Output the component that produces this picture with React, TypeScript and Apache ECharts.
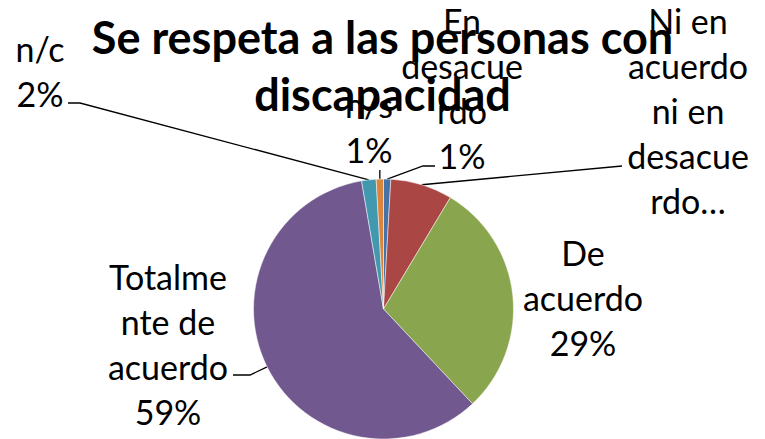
import React, { useEffect, useRef } from 'react';
import * as echarts from 'echarts';

const categories = ['En desacuerdo', 'Ni en acuerdo ni en desacuerdo', 'De acuerdo', 'Totalmente de acuerdo', 'n/c', 'n/s'];
const values = [0.9, 7.7, 29.4, 59.3, 1.8, 0.9];
const colors = ['#4572A7', '#AA4643', '#89A54E', '#71588F', '#4198AF', '#DB843D'];
const wrappedNames = ['En\ndesacue\nrdo', 'Ni en\nacuerdo\nni en\ndesacue\nrdo…', 'De\nacuerdo', 'Totalme\nnte de\nacuerdo', 'n/c', 'n/s'];
const showPercent = [true, false, true, true, true, true];
const titleText = 'Se respeta a las personas con\ndiscapacidad';

const FONT = 'Lato';

// label block centres and leader-line elbow/end points (layout only)
const labelPos: { x: number; y: number; line: number[][] | null }[] = [
  { x: 462, y: 88, line: [[423, 166], [435, 166]] },
  { x: 688, y: 110, line: [[622, 166], [622, 166]] },
  { x: 583, y: 297, line: null },
  { x: 168, y: 344, line: [[250, 375], [233, 375]] },
  { x: 40, y: 71, line: [[80, 103], [68, 103]] },
  { x: 369, y: 127, line: [[-1, 170], [-1, 170]] },
];

export default function App() {
  const ref = useRef<HTMLDivElement>(null);
  useEffect(() => {
    if (!ref.current) return;
    const chart = echarts.init(ref.current, null, { renderer: 'svg' });
    chart.setOption({
      animation: false,
      backgroundColor: '#ffffff',
      title: {
        text: titleText,
        left: 'center',
        top: 3,
        textStyle: {
          fontFamily: FONT,
          fontWeight: 'bold',
          fontSize: 45,
          lineHeight: 57,
          color: '#000',
        },
      },
      series: [
        {
          type: 'pie',
          center: [383.5, 309],
          radius: 130,
          startAngle: 90,
          clockwise: true,
          avoidLabelOverlap: false,
          itemStyle: { borderColor: '#ffffff', borderWidth: 0.5 },
          label: {
            show: true,
            position: 'outside',
            fontFamily: FONT,
            fontSize: 34,
            lineHeight: 45,
            color: '#000',
            formatter: (p: any) => {
              const i = p.dataIndex;
              return showPercent[i] ? wrappedNames[i] + '\n' + Math.round(p.percent) + '%' : wrappedNames[i];
            },
          },
          labelLine: { show: true, lineStyle: { color: '#000', width: 1.3 } },
          labelLayout: (params: any) => {
            const i = params.dataIndex;
            const pos = labelPos[i];
            const out: any = { x: pos.x, y: pos.y, align: 'center', verticalAlign: 'middle' };
            if (pos.line && params.labelLinePoints) {
              const start = params.labelLinePoints[0];
              const pts = [start.slice()];
              pos.line.forEach((pt) => pts.push([pt[0] < 0 ? start[0] : pt[0], pt[1]]));
              out.labelLinePoints = pts;
            }
            return out;
          },
          data: categories.map((name, i) => ({
            name,
            value: values[i],
            itemStyle: { color: colors[i] },
            labelLine: { show: labelPos[i].line !== null },
          })),
        },
      ],
    });
    return () => chart.dispose();
  }, []);
  return <div ref={ref} style={{ position: 'fixed', left: 0, top: 0, width: 765, height: 439 }} />;
}
